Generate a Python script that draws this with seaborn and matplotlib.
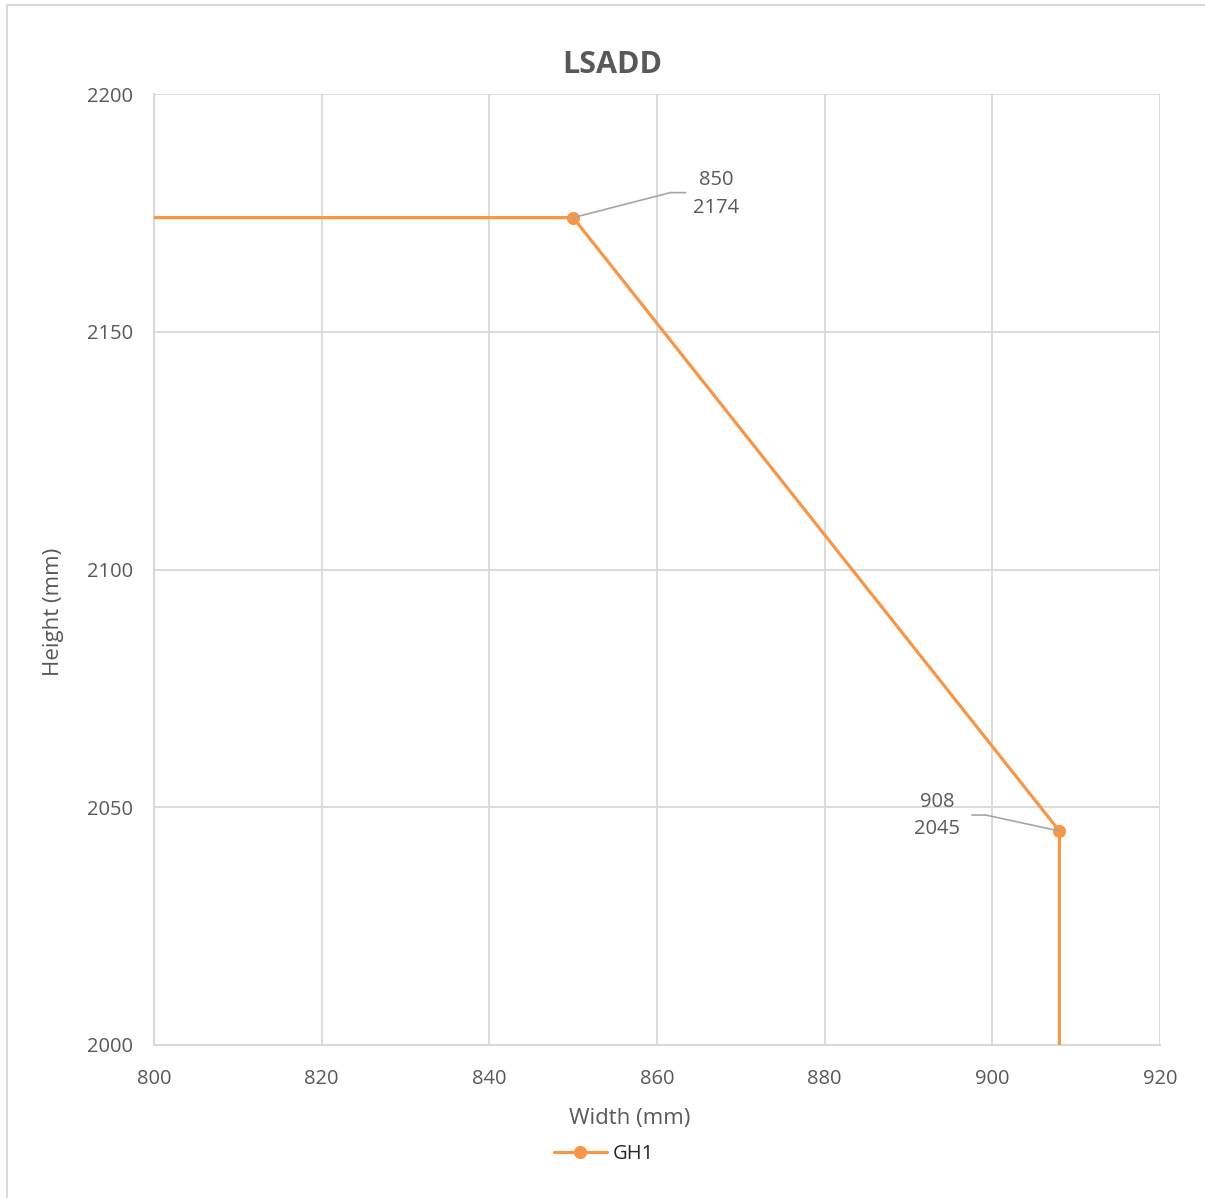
import matplotlib
matplotlib.use("Agg")
import matplotlib.pyplot as plt
from matplotlib.transforms import offset_copy
from matplotlib.lines import Line2D
from matplotlib.patches import Rectangle
import seaborn as sns
import pandas as pd

# Series GH1: width / height profile
widths = [700, 850, 908, 908]
heights = [2174, 2174, 2045, 1900]
series_name = "GH1"
labelled_idx = [1, 2]

x_ticks = [800, 820, 840, 860, 880, 900, 920]
y_ticks = [2000, 2050, 2100, 2150, 2200]

title = "LSADD"
x_label = "Width (mm)"
y_label = "Height (mm)"

ORANGE = "#F79646"
GRID = "#D9D9D9"
TEXT = "#595959"

sns.set_theme(style="white")
plt.rcParams["font.family"] = ["Open Sans", "DejaVu Sans"]

fig = plt.figure(figsize=(12.05, 11.98), dpi=100)
ax = fig.add_axes([154 / 1205, 1 - 1045 / 1198, 1006 / 1205, 951 / 1198])

df = pd.DataFrame({"w": widths, "h": heights, "s": series_name})
sns.lineplot(data=df, x="w", y="h", sort=False, estimator=None, errorbar=None,
             ax=ax, color=ORANGE, linewidth=2.3, marker="o", markersize=9.5,
             markeredgewidth=0, legend=False, zorder=3)

ax.set_xlim(x_ticks[0], x_ticks[-1])
ax.set_ylim(y_ticks[0], y_ticks[-1])
ax.set_xticks(x_ticks)
ax.set_yticks(y_ticks)
ax.grid(True, color=GRID, linewidth=1.3)
ax.set_axisbelow(True)
for side, sp in ax.spines.items():
    sp.set_visible(side in ("left", "bottom"))
    sp.set_color(GRID)
    sp.set_linewidth(1.5)
ax.tick_params(axis="both", which="major", direction="out", length=5,
               width=1.3, color=GRID, labelcolor=TEXT, labelsize=14.5)
ax.tick_params(axis="x", pad=12)
ax.tick_params(axis="y", pad=10)

ax.set_xlabel(x_label, fontsize=16, color=TEXT)
ax.set_ylabel(y_label, fontsize=16, color=TEXT)
ax.xaxis.set_label_coords((630 - 154) / 1006, (1045 - 1108) / 951)
ax.yaxis.set_label_coords((64 - 154) / 1006, (1045 - 612) / 951)

fig.text(612 / 1205, 1 - 65 / 1198, title, ha="center", va="center",
         fontsize=22, fontweight="bold", color=TEXT)

# Data labels with leader lines
label_offsets = {1: dict(elbow=(70, 18), end=(81, 18), text=(103, 17)),
                 2: dict(elbow=(-53, 11.5), end=(-63, 11.5), text=(-88, 11))}
for i in labelled_idx:
    x, y = widths[i], heights[i]
    o = label_offsets[i]
    t_elbow = offset_copy(ax.transData, fig=fig, x=o["elbow"][0], y=o["elbow"][1], units="points")
    t_end = offset_copy(ax.transData, fig=fig, x=o["end"][0], y=o["end"][1], units="points")
    lp = dict(arrowstyle="-", color="#A6A6A6", lw=1.2, shrinkA=0, shrinkB=0)
    ax.annotate("", xy=(x, y), xytext=(x, y), textcoords=t_elbow, arrowprops=lp, zorder=4)
    ax.annotate("", xy=(x, y), xycoords=t_elbow, xytext=(x, y), textcoords=t_end,
                arrowprops=lp, zorder=4)
    ax.annotate(f"{x}\n{y}", xy=(x, y), xytext=o["text"], textcoords="offset points",
                ha="center", va="center", fontsize=14.5, color=TEXT, linespacing=1.5)

handle = Line2D([], [], color=ORANGE, linewidth=2.3, marker="o", markersize=9.5,
                markeredgewidth=0)
fig.legend([handle], [series_name], loc="center", bbox_to_anchor=(604 / 1205, 1 - 1154 / 1198),
           frameon=False, fontsize=14.5, handlelength=2.6, handletextpad=0.3)

# Chart area border
fig.patches.append(Rectangle((6.5 / 1205, -0.01), 1.2, 1 - 4.5 / 1198 + 0.01,
                             transform=fig.transFigure, fill=False,
                             edgecolor="#D9D9D9", linewidth=1.5))

fig.savefig("out.png", dpi=100)
